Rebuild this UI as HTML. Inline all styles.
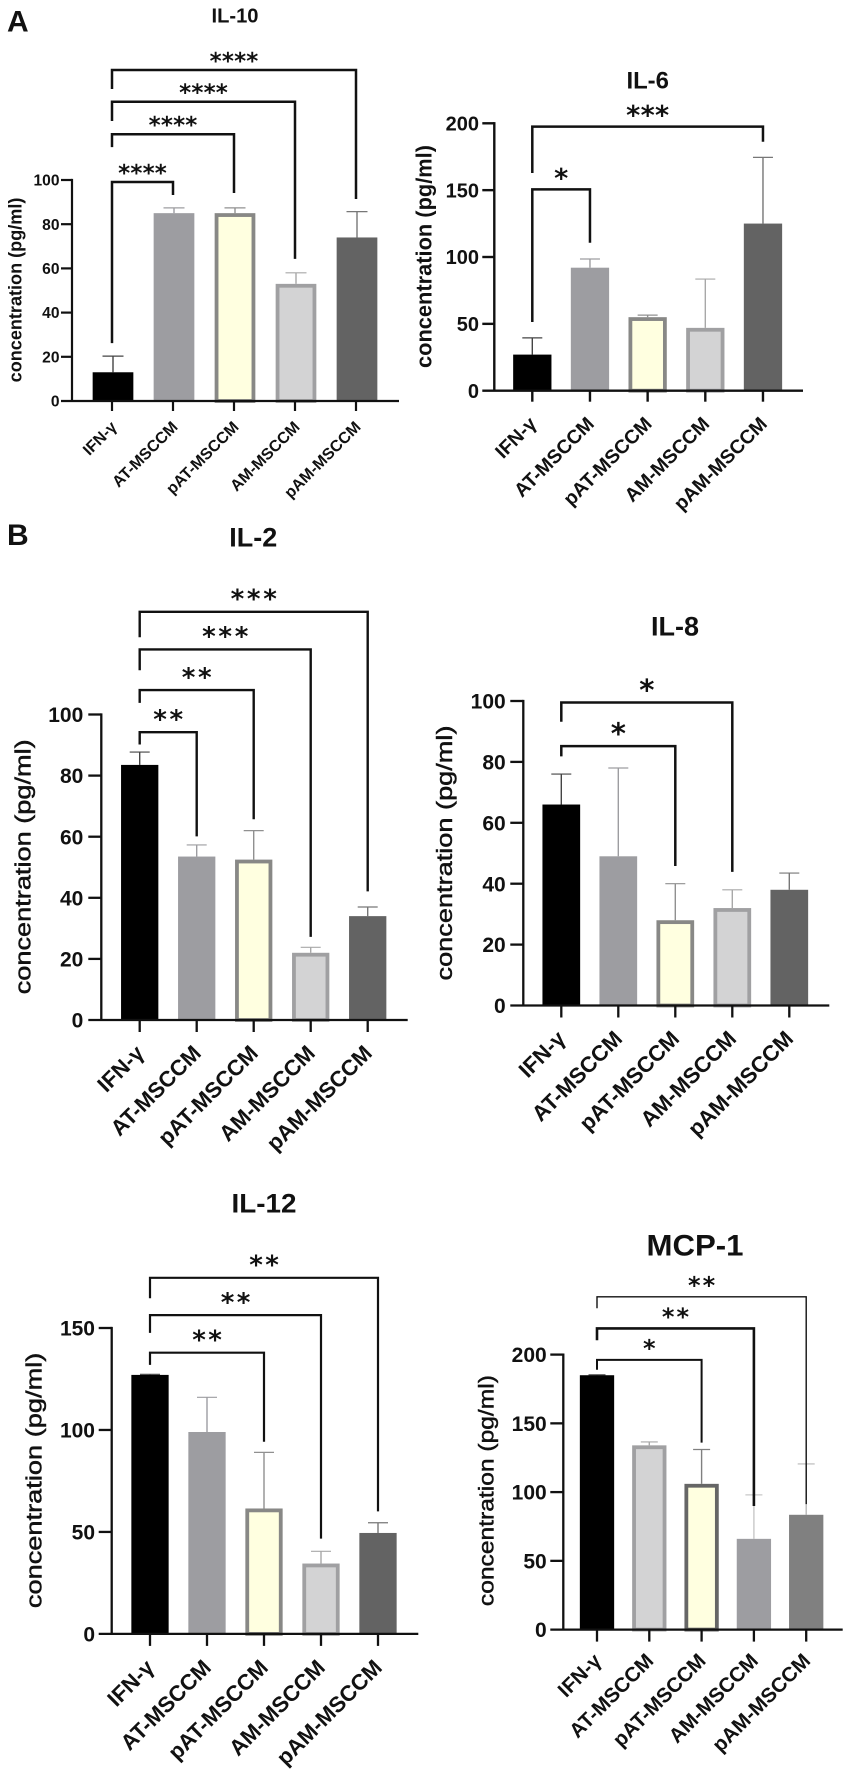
<!DOCTYPE html>
<html>
<head>
<meta charset="utf-8">
<style>
html,body{margin:0;padding:0;background:#fff;width:851px;height:1781px;overflow:hidden}
svg{display:block}
text{font-family:"Liberation Sans",sans-serif;font-weight:700;fill:#111}
.star{font-family:"DejaVu Sans",sans-serif;font-weight:700;fill:#111}
.semi{font-weight:400;stroke:#111;stroke-width:.45}
</style>
</head>
<body>
<svg id="fig" xmlns="http://www.w3.org/2000/svg" width="851" height="1781" viewBox="0 0 851 1781">
<rect x="0" y="0" width="851" height="1781" fill="#fff"/>
<text x="7" y="31.7" font-size="30">A</text>
<text x="7" y="545" font-size="30">B</text>
</svg>
<script>
// ---- data ----
const categories = ["IFN-γ", "AT-MSCCM", "pAT-MSCCM", "AM-MSCCM", "pAM-MSCCM"];

const il10Values = [13, 85, 85, 53, 74];
const il10Upper = [20.3, 87.4, 87.4, 58, 85.7];
const il10Ticks = [0, 20, 40, 60, 80, 100];
// [from, to, stars, top, left-leg end, right-leg end] in axis units
const il10Brackets = [
  [0, 1, "****", 99.1, 26.2, 93.2],
  [0, 2, "****", 120.7, 114.9, 94.1],
  [0, 3, "****", 135.4, 126.7, 64.3],
  [0, 4, "****", 149.8, 141.2, 91.4]
];

const il6Values = [27, 92, 55, 47, 125];
const il6Upper = [39.5, 98.5, 56.5, 83.5, 174.5];
const il6Ticks = [0, 50, 100, 150, 200];
const il6Brackets = [
  [0, 1, "*", 150.6, 51.4, 110.7],
  [0, 4, "***", 197.5, 162.8, 186.2]
];

const il2Values = [83.5, 53.5, 52.5, 22, 34];
const il2Upper = [87.7, 57.3, 62, 23.8, 37];
const il2Ticks = [0, 20, 40, 60, 80, 100];
const il2Brackets = [
  [0, 1, "**", 94.2, 90.2, 60.1],
  [0, 2, "**", 108, 103.8, 65.7],
  [0, 3, "***", 121.3, 114.5, 27.2],
  [0, 4, "***", 133.6, 125.3, 42.1]
];

const il8Values = [66, 49, 28, 32, 38];
const il8Upper = [76, 78, 40, 38, 43.5];
const il8Ticks = [0, 20, 40, 60, 80, 100];
const il8Brackets = [
  [0, 2, "*", 85.2, 81.8, 45.8],
  [0, 3, "*", 99.5, 93.2, 43.9]
];

const il12Values = [127, 99, 61.5, 34.5, 49.5];
const il12Upper = [127.3, 116, 89, 40.5, 54.5];
const il12Ticks = [0, 50, 100, 150];
const il12Brackets = [
  [0, 2, "**", 137.9, 131.9, 94.2],
  [0, 3, "**", 156.3, 147.6, 46.7],
  [0, 4, "**", 174.6, 164.6, 60.1]
];

const mcp1Values = [185, 134, 106, 66, 83.5];
const mcp1Upper = [185.3, 136.5, 131, 98, 120.5];
const mcp1Ticks = [0, 50, 100, 150, 200];
const mcp1Brackets = [
  [0, 2, "*", 196.2, 189, 136],
  [0, 3, "**", 219, 210.4, 89.9],
  [0, 4, "**", 242, 233.7, 91.3]
];

// ---- appearance ----
const black = {fill:"#000", stroke:null, err:"#444"};
const gray = {fill:"#9d9da1", stroke:null, err:"#9d9da1"};
const yellow = {fill:"#ffffe0", stroke:"#888886", err:"#909090"};
const yellowDark = {fill:"#ffffe0", stroke:"#666", err:"#808080"};
const light = {fill:"#d3d3d4", stroke:"#a0a0a2", err:"#a8a8a8"};
const dark = {fill:"#636363", stroke:null, err:"#777"};
const mid = {fill:"#808080", stroke:null, err:"#b8b8b8"};
const grayPale = {fill:"#9d9da1", stroke:null, err:"#c8c8c8"};

const panels = [
 {key:"il-10", title:"IL-10", values:il10Values, upper:il10Upper, ticks:il10Ticks, brackets:il10Brackets,
  styles:[black,gray,yellow,light,dark],
  axisX:72, y0:401, yTopPx:180, yMax:100, firstX:112, stepX:61, barW:40.7, barOff:1, xEnd:399, tickLen:10, axisW:2.2,
  tickFont:15.6, tickRight:59.5,
  xFont:16, xAngle:45, xDx:5.7, xDy:27,
  ylX:17, ylMid:290, ylSize:18, ylLen:184.7, ylClass:"", titleX:235, titleY:22.7, titleSize:20, titleLen:47,
  starSize:23, pitch:12.2, starGap:13, bws:[2.5,2.5,2.5,2.5], capH:10.5},
 {key:"il-6", title:"IL-6", values:il6Values, upper:il6Upper, ticks:il6Ticks, brackets:il6Brackets,
  styles:[black,gray,yellow,light,dark],
  axisX:494.3, y0:390.7, yTopPx:123.3, yMax:200, firstX:532.3, stepX:57.67, barW:38.3, barOff:0, xEnd:803, tickLen:11, axisW:2.4,
  tickFont:20, tickRight:479,
  xFont:19.5, xAngle:45, xDx:5.3, xDy:34.3,
  ylX:426, ylMid:256.5, ylSize:21.8, ylLen:223, ylClass:"", titleX:647.7, titleY:88.5, titleSize:24, titleLen:42.5,
  starSize:27, pitch:14.4, starGap:16, bws:[2.5,2.5], capH:10},
 {key:"il-2", title:"IL-2", values:il2Values, upper:il2Upper, ticks:il2Ticks, brackets:il2Brackets,
  styles:[black,gray,yellow,light,dark],
  axisX:101.3, y0:1020, yTopPx:714.5, yMax:100, firstX:139.7, stepX:57, barW:37.3, barOff:0, xEnd:407.7, tickLen:12, axisW:2.3,
  tickFont:21, tickRight:83.3,
  xFont:22, xAngle:45, xDx:5.6, xDy:34.5,
  ylX:25, ylMid:866.8, ylSize:22, ylLen:255, ylClass:"semi", titleX:253.3, titleY:546.3, titleSize:27, titleLen:48,
  starSize:26, pitch:16.3, starGap:17.8, bws:[2.4,2.4,2.4,2.4], capH:10},
 {key:"il-8", title:"IL-8", values:il8Values, upper:il8Upper, ticks:il8Ticks, brackets:il8Brackets,
  styles:[black,gray,yellow,light,dark],
  axisX:523.3, y0:1005.5, yTopPx:701, yMax:100, firstX:561.3, stepX:57, barW:37.7, barOff:0, xEnd:829.3, tickLen:12, axisW:2.3,
  tickFont:21, tickRight:505.7,
  xFont:22, xAngle:45, xDx:5.3, xDy:34.5,
  ylX:446.7, ylMid:853, ylSize:22, ylLen:255, ylClass:"semi", titleX:675, titleY:635.5, titleSize:27, titleLen:48,
  starSize:29, pitch:16, starGap:17.8, bws:[2.5,2.5], capH:10},
 {key:"il-12", title:"IL-12", values:il12Values, upper:il12Upper, ticks:il12Ticks, brackets:il12Brackets,
  styles:[black,gray,yellow,light,dark],
  axisX:111.7, y0:1633.9, yTopPx:1328, yMax:150, firstX:150, stepX:57, barW:37.3, barOff:0, xEnd:418.3, tickLen:12, axisW:2.3,
  tickFont:21, tickRight:95,
  xFont:22, xAngle:45, xDx:5.3, xDy:35,
  ylX:36, ylMid:1480.4, ylSize:22, ylLen:255.5, ylClass:"semi", titleX:264, titleY:1212.5, titleSize:27, titleLen:65,
  starSize:26, pitch:16, starGap:17.8, bws:[2.2,2.2,2.2], capH:10},
 {key:"mcp-1", title:"MCP-1", values:mcp1Values, upper:mcp1Upper, ticks:mcp1Ticks, brackets:mcp1Brackets,
  styles:[black,light,yellowDark,grayPale,mid],
  axisX:563.3, y0:1629.6, yTopPx:1354.6, yMax:200, firstX:597, stepX:52.3, barW:34.3, barOff:0, xEnd:842.7, tickLen:12, axisW:2.3,
  tickFont:21, tickRight:546.7,
  xFont:20.5, xAngle:45, xDx:5.4, xDy:32.5,
  ylX:488.3, ylMid:1490.6, ylSize:21, ylLen:231, ylClass:"semi", titleX:695, titleY:1255.5, titleSize:30, titleLen:97,
  starSize:24, pitch:14.7, starGap:16, bws:[2,2.6,1.4], capH:8.5}
];

const SVGNS = "http://www.w3.org/2000/svg";
const fig = document.getElementById("fig");

function make(tag, parent, attrs) {
  const n = document.createElementNS(SVGNS, tag);
  for (const k in attrs) n.setAttribute(k, attrs[k]);
  parent.appendChild(n);
  return n;
}

function drawPanel(p) {
  const yScale = v => p.y0 - (v / p.yMax) * (p.y0 - p.yTopPx);
  const xScale = i => p.firstX + i * p.stepX;

  const g = make("g", fig, {});
  
  

  const title = make("text", g, {x:p.titleX, y:p.titleY, "text-anchor":"middle", "font-size":p.titleSize, textLength:p.titleLen, lengthAdjust:"spacingAndGlyphs"});
  title.textContent = p.title;
  
  

  const yl = make("text", g, {class:p.ylClass, "text-anchor":"middle", "font-size":p.ylSize, textLength:p.ylLen, lengthAdjust:"spacingAndGlyphs",
    transform:`translate(${p.ylX + p.ylSize * 0.25},${p.ylMid}) rotate(-90)`});
  yl.textContent = "concentration (pg/ml)";
  
  

  // error bars, then bars
  p.values.forEach((v, i) => {
    const st = p.styles[i];
    const cx = xScale(i) + p.barOff;
    const errTop = yScale(p.upper[i]);
    const stem = make("line", g, {x1:cx, x2:cx, y1:yScale(v), y2:errTop, stroke:st.err, "stroke-width":1.4});
    
    
    const cap = make("line", g, {x1:cx - p.capH, x2:cx + p.capH, y1:errTop, y2:errTop, stroke:st.err, "stroke-width":1.2});
    
    
  });
  p.values.forEach((v, i) => {
    const st = p.styles[i];
    const cx = xScale(i) + p.barOff;
    const top = yScale(v);
    const inset = st.stroke ? 1.9 : 0;
    const bar = make("rect", g, {x:cx - p.barW / 2 + inset, y:top + inset, width:p.barW - 2 * inset, height:p.y0 - top - inset, fill:st.fill});
    if (st.stroke) { bar.setAttribute("stroke", st.stroke); bar.setAttribute("stroke-width", 3.8); }
    
    
  });

  // axes
  const yAxis = make("line", g, {x1:p.axisX, x2:p.axisX, y1:p.yTopPx - p.axisW / 2, y2:p.y0, stroke:"#111", "stroke-width":p.axisW});
  
  
  const yLeft = p.axisX - p.tickLen - 1;
  const xAxis = make("line", g, {x1:yLeft, x2:p.xEnd, y1:p.y0, y2:p.y0, stroke:"#111", "stroke-width":p.axisW});
  
  

  p.ticks.forEach(t => {
    const y = yScale(t);
    if (t !== 0) {
      const tk = make("line", g, {x1:yLeft, x2:p.axisX, y1:y, y2:y, stroke:"#111", "stroke-width":p.axisW});
      
      
    }
    const lb = make("text", g, {"text-anchor":"end", "font-size":p.tickFont, x:p.tickRight, y:y + p.tickFont * 0.36});
    lb.textContent = String(t);
    
    
  });

  categories.forEach((c, i) => {
    const x = xScale(i);
    const tk = make("line", g, {x1:x, x2:x, y1:p.y0, y2:p.y0 + p.tickLen, stroke:"#111", "stroke-width":p.axisW});
    
    
    const lb = make("text", g, {"text-anchor":"end", "font-size":p.xFont,
      transform:`translate(${x + p.xDx},${p.y0 + p.xDy}) rotate(${-p.xAngle})`});
    lb.textContent = c;
    
    
  });

  // significance brackets
  p.brackets.forEach((b, k) => {
    const xa = xScale(b[0]), xb = xScale(b[1]);
    const top = yScale(b[3]);
    const path = make("path", g, {d:`M${xa} ${yScale(b[4])}V${top}H${xb}V${yScale(b[5])}`, fill:"none", stroke:"#111", "stroke-width":p.bws[k]});
    
    
    const mx = (xa + xb) / 2;
    const n = b[2].length;
    const xs = [];
    for (let j = 0; j < n; j++) xs.push(mx + (j - (n - 1) / 2) * p.pitch);
    const st = make("text", g, {class:"star", "text-anchor":"middle", x:xs.join(" "), y:top - p.starGap + p.starSize * 0.52, "font-size":p.starSize});
    st.textContent = b[2];
    
    
  });
}

panels.forEach(drawPanel);
</script>
</body>
</html>
